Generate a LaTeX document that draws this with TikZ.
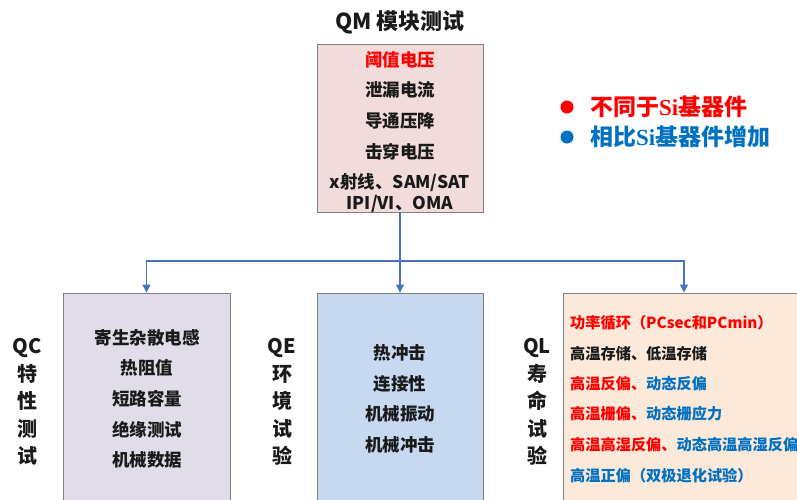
\documentclass[tikz,border=0pt]{standalone}
\usepackage{fontspec}
\setmainfont{Noto Sans CJK SC}
\newfontfamily\siserif{Liberation Serif}
\usetikzlibrary{arrows.meta}
\definecolor{qmfill}{RGB}{242,220,219}
\definecolor{qcfill}{RGB}{224,220,232}
\definecolor{qefill}{RGB}{198,217,240}
\definecolor{qlfill}{RGB}{253,233,217}
\definecolor{boxline}{RGB}{128,128,128}
\definecolor{conn}{RGB}{68,114,196}
\definecolor{myred}{RGB}{255,0,0}
\definecolor{myblue}{RGB}{0,112,192}
\definecolor{txt}{RGB}{26,26,26}
\tikzset{
  box/.style={draw=boxline, line width=0.9pt, rectangle, inner sep=0pt},
  item/.style={font=\fontsize{17.5}{20}\selectfont\bfseries, text=txt, inner sep=0pt, anchor=center},
  qlitem/.style={font=\fontsize{15.2}{18}\selectfont\bfseries, text=txt, inner sep=0pt, anchor=west},
  vlabel/.style={font=\fontsize{20}{27.5}\selectfont\bfseries, text=txt, inner sep=0pt, align=center, anchor=center},
  legend/.style={font=\fontsize{23}{26}\selectfont\bfseries, inner sep=0pt, anchor=west},
  connector/.style={draw=conn, line width=1.1pt, -{Triangle[width=8pt,length=8pt]}},
}
\begin{document}
\begin{tikzpicture}[x=1pt,y=-1pt]
\useasboundingbox (0,0) rectangle (797,499);
\clip (0,0) rectangle (797,499);
% boxes
\node[box, fill=qmfill, minimum width=166pt, minimum height=168pt] (qm) at (400,128) {};
\node[box, fill=qcfill, minimum width=167pt, minimum height=240pt] (qc) at (146.5,413) {};
\node[box, fill=qefill, minimum width=166pt, minimum height=240pt] (qe) at (400,413) {};
\node[box, fill=qlfill, minimum width=242pt, minimum height=240pt] (ql) at (684,413) {};
% title
\node[font=\fontsize{22}{26}\selectfont\bfseries, text=txt, inner sep=0pt] (title) at (400,22) {QM 模块测试};
% QM items
\node[item, text=myred] (qm1) at (400,60) {阈值电压};
\node[item] (qm2) at (400,90) {泄漏电流};
\node[item] (qm3) at (400,121) {导通压降};
\node[item] (qm4) at (400,152) {击穿电压};
\node[item] (qm5) at (400,183) {x射线、SAM/SAT};
\node[item] (qm6) at (400,204) {IPI/VI、OMA};
% legend
\node[circle, fill=myred, minimum size=13pt, inner sep=0pt] (b1) at (567,107) {};
\node[legend, text=myred] (l1) at (590,107) {不同于{\siserif Si}基器件};
\node[circle, fill=myblue, minimum size=13pt, inner sep=0pt] (b2) at (567,137) {};
\node[legend, text=myblue] (l2) at (590,137) {相比{\siserif Si}基器件增加};
% connectors
\coordinate (jn) at (400,261);
\draw[connector] (qm.south) -- (qe.north);
\draw[connector] (jn) -| (qc.north);
\draw[connector] (jn) -| (ql.north);
% side labels
\node[vlabel] (lqc) at (27,402) {QC\\特\\性\\测\\试};
\node[vlabel] (lqe) at (282,402) {QE\\环\\境\\试\\验};
\node[vlabel] (lql) at (537,402) {QL\\寿\\命\\试\\验};
% QC items
\node[item] (qc1) at (147,338) {寄生杂散电感};
\node[item] (qc2) at (147,368) {热阻值};
\node[item] (qc3) at (147,399) {短路容量};
\node[item] (qc4) at (147,430) {绝缘测试};
\node[item] (qc5) at (147,460) {机械数据};
% QE items
\node[item] (qe1) at (400,353) {热冲击};
\node[item] (qe2) at (400,384) {连接性};
\node[item] (qe3) at (400,414) {机械振动};
\node[item] (qe4) at (400,445) {机械冲击};
% QL items
\node[qlitem, text=myred] (ql1) at (570,323) {功率循环（PCsec和PCmin）};
\node[qlitem] (ql2) at (570,354) {高温存储、低温存储};
\node[qlitem] (ql3) at (570,384) {\textcolor{myred}{高温反偏、}\textcolor{myblue}{动态反偏}};
\node[qlitem] (ql4) at (570,414) {\textcolor{myred}{高温栅偏、}\textcolor{myblue}{动态栅应力}};
\node[qlitem] (ql5) at (570,445) {\textcolor{myred}{高温高湿反偏、}\textcolor{myblue}{动态高温高湿反偏}};
\node[qlitem, text=myblue] (ql6) at (570,476) {高温正偏（双极退化试验）};
\end{tikzpicture}
\end{document}
